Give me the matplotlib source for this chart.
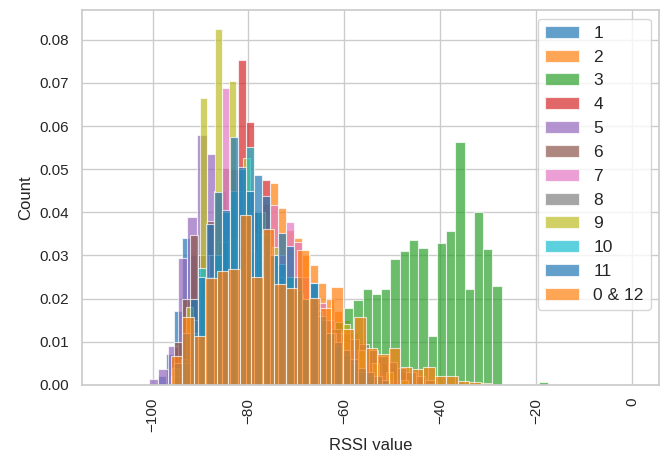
import numpy as np
import seaborn as sns
from matplotlib import pyplot as plt

sns.set_theme(style="whitegrid")
plt.rcParams['font.family'] = ['Liberation Sans', 'DejaVu Sans']

labels = ['1', '2', '3', '4', '5', '6', '7', '8', '9', '10', '11', '0 & 12']

# left edge of first bin and bin width per series (RSSI units)
bin_start = [-102.15, -102.15, -65.85, -102.15, -100.83, -102.15,
             -102.15, -96.1, -96.0, -102.15, -102.15, -96.17]
bin_width = [1.667, 1.667, 1.93, 1.667, 2.02, 1.667,
             1.667, 1.96, 1.49, 1.667, 1.667, 2.39]

h1 = [0, 0.0005, 0.002, 0.0072, 0.0172, 0.034, 0.03, 0.0178, 0.03, 0.033,
      0.032, 0.03, 0.028, 0.027, 0.025, 0.023, 0.021, 0.019, 0.017, 0.015,
      0.013, 0.011, 0.009, 0.008, 0.006, 0.005, 0.004, 0.003, 0.002, 0.0015,
      0.001, 0.0005]
h2 = [0, 0, 0, 0, 0, 0.005, 0.01, 0.015, 0.02, 0.025, 0.03, 0.033, 0.036,
      0.038, 0.04, 0.042, 0.0467, 0.041, 0.036, 0.034, 0.03, 0.0278, 0.0237,
      0.02, 0.017, 0.015, 0.012, 0.01, 0.008, 0.006, 0.005, 0.004, 0.003,
      0.002, 0.0015, 0.001]
h3 = [0.002, 0.008, 0.0146, 0.0178, 0.0197, 0.0223, 0.021, 0.0223, 0.0291,
      0.0311, 0.0335, 0.0318, 0.0114, 0.0328, 0.0356, 0.0562, 0.0222, 0.0400,
      0.0314, 0.0229, 0.0003, 0.0001, 0.0002, 0, 0.0006, 0, 0, 0, 0, 0, 0,
      0, 0, 0.0001]
h4 = [0, 0, 0, 0, 0, 0.005, 0.01, 0.015, 0.025, 0.03, 0.04, 0.05, 0.0754,
      0.0609, 0.04, 0.0475, 0.03, 0.028, 0.022, 0.02, 0.017, 0.014, 0.012,
      0.01, 0.009, 0.007, 0.005, 0.004, 0.003, 0.002, 0.001]
h5 = [0.0014, 0.0036, 0.009, 0.0294, 0.039, 0.0579, 0.0535, 0.045, 0.04,
      0.034, 0.03, 0.025, 0.021, 0.017, 0.013, 0.01, 0.008, 0.006, 0.004,
      0.003, 0.002, 0.001]
h6 = [0, 0, 0, 0, 0.01, 0.02, 0.0347, 0.03, 0.038, 0.042, 0.0502, 0.043,
      0.04, 0.035, 0.03, 0.027, 0.024, 0.021, 0.018, 0.015, 0.013, 0.011,
      0.009, 0.007, 0.006, 0.004, 0.003, 0.002, 0.001]
h7 = [0, 0, 0, 0, 0, 0, 0.01, 0.02, 0.03, 0.045, 0.0688, 0.05, 0.045, 0.04,
      0.035, 0.032, 0.0417, 0.03, 0.0378, 0.0331, 0.025, 0.0237, 0.019,
      0.015, 0.012, 0.01, 0.008, 0.006, 0.005, 0.003, 0.002, 0.001]
h8 = [0.002, 0.006, 0.015, 0.024, 0.03, 0.033, 0.034, 0.033, 0.031, 0.029,
      0.027, 0.025, 0.023, 0.021, 0.019, 0.017, 0.015, 0.013, 0.012, 0.0107,
      0.0094, 0.008, 0.0066, 0.0054, 0.004, 0.003, 0.002, 0.001]
h9 = [0.004, 0, 0.018, 0, 0.0666, 0, 0.0824, 0, 0.0704, 0, 0.0525, 0, 0.04,
      0, 0.032, 0, 0.025, 0, 0.02, 0, 0.016, 0, 0.012, 0, 0.014, 0, 0.008,
      0, 0.005, 0, 0.003, 0, 0.001]
h10 = [0, 0, 0, 0, 0, 0.005, 0.012, 0.027, 0.025, 0.03, 0.040, 0.045, 0.05,
       0.0552, 0.04, 0.035, 0.03, 0.028, 0.025, 0.022, 0.02, 0.0236, 0.015,
       0.012, 0.009, 0.007, 0.005, 0.003, 0.002, 0.001]
h11 = [0, 0, 0, 0, 0.005, 0.012, 0.02, 0.025, 0.0373, 0.0448, 0.0405, 0.0575,
       0.0505, 0.045, 0.0486, 0.0437, 0.03, 0.0351, 0.0322, 0.025, 0.02,
       0.0236, 0.016, 0.012, 0.01, 0.008, 0.006, 0.004, 0.003, 0.002, 0.001]
h12 = [0.0066, 0.0158, 0.0112, 0.0248, 0.0264, 0.0269, 0.0393, 0.0251,
       0.0361, 0.0233, 0.0224, 0.0312, 0.0201, 0.0178, 0.0226, 0.013, 0.0158,
       0.0086, 0.0072, 0.0086, 0.0042, 0.0037, 0.0042, 0.0021, 0.0021,
       0.0009, 0.0006, 0.0005]

heights = [h1, h2, h3, h4, h5, h6, h7, h8, h9, h10, h11, h12]
colors = sns.color_palette('tab10', 10)

fig, ax = plt.subplots(figsize=(6.72, 4.57), dpi=100)
fig.subplots_adjust(left=0.122, right=0.981, top=0.978, bottom=0.158)

for i, h in enumerate(heights):
    left = bin_start[i] + bin_width[i] * np.arange(len(h))
    ax.bar(left, h, width=bin_width[i], align='edge', color=colors[i % 10],
           alpha=0.7, edgecolor='white', linewidth=0.8, label=labels[i])

ax.set_xlim(-114.7, 5.6)
ax.set_ylim(0, 0.0869)
ax.set_xticks(np.arange(-100, 1, 20))
ax.set_yticks(np.arange(0, 0.081, 0.01))
ax.tick_params(axis='x', labelrotation=90)
ax.set_xlabel('RSSI value')
ax.set_ylabel('Count')
ax.legend(loc='upper right', fontsize=12.5)

fig.savefig('out.png')
